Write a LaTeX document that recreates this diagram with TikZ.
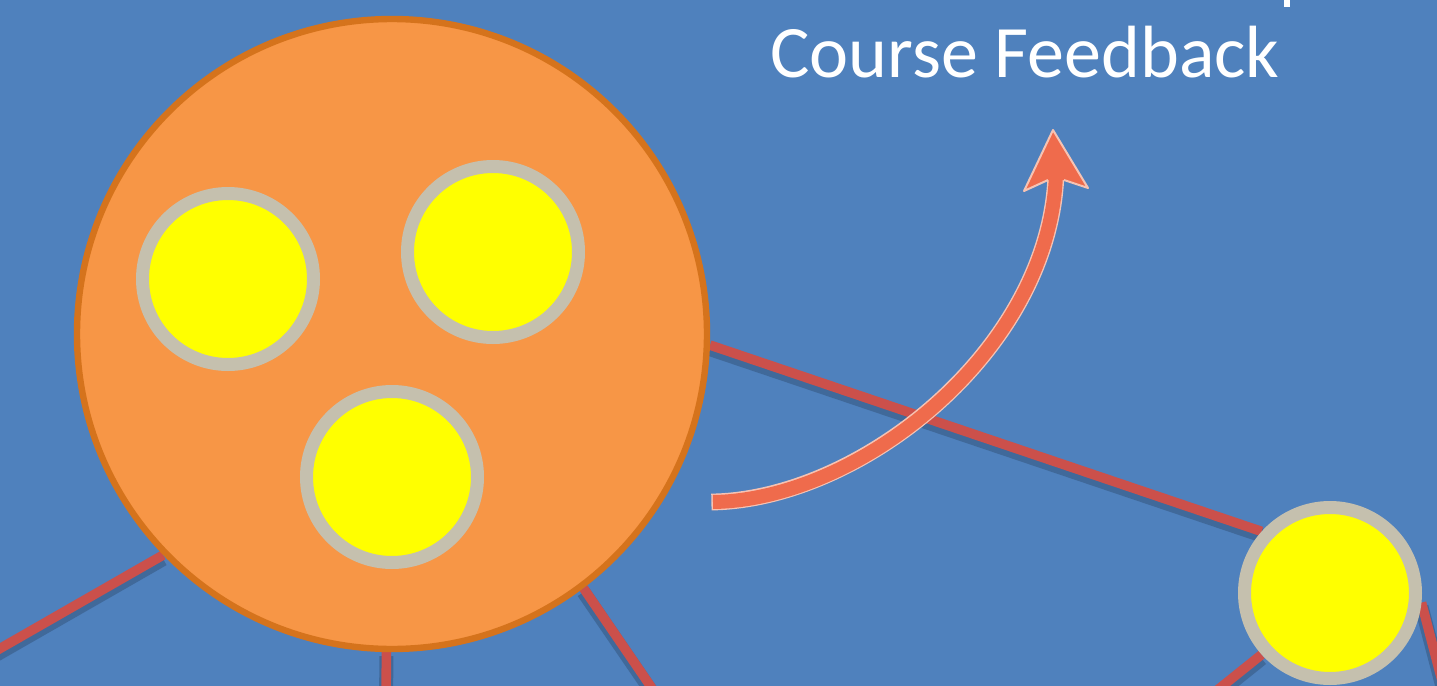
\documentclass[tikz,border=0pt]{standalone}
\usepackage{fontspec}
\setmainfont{Carlito}
\definecolor{bgblue}{HTML}{4F81BD}
\definecolor{orangefill}{HTML}{F79646}
\definecolor{orangeline}{HTML}{D5731C}
\definecolor{edgered}{HTML}{CB504B}
\definecolor{arrowcol}{HTML}{EF6B4C}
\definecolor{arrowedge}{HTML}{F6C3B3}
\definecolor{ringcol}{HTML}{C5C0AE}
\definecolor{memberfill}{HTML}{FFFF00}
\pgfdeclarelayer{back}
\pgfsetlayers{back,main}
\begin{document}
\begin{tikzpicture}[x=0.5pt,y=-0.5pt,
  bigcirc/.style={circle, fill=orangefill, draw=orangeline, line width=3.2pt, minimum size=315pt, inner sep=0pt},
  member/.style={circle, fill=memberfill, draw=ringcol, line width=6.5pt, minimum size=85.5pt, inner sep=0pt},
  link/.style={draw=edgered, line width=4.8pt,
    preaction={draw=black, draw opacity=0.18, line width=7pt, transform canvas={yshift=-2pt}}},
  titletext/.style={text=white, font=\fontsize{37}{44}\selectfont, anchor=base west, inner sep=0pt},
  shaftedge/.style={draw=arrowedge, line width=8.4pt},
  shaftfill/.style={draw=arrowcol, line width=7pt}
]
\useasboundingbox (0,0) rectangle (1437,686);
\clip (0,0) rectangle (1437,686);

% nodes
\node[bigcirc] (group) at (392,334) {};
\node[member] (m1) at (228,279) {};
\node[member] (m2) at (493,252) {};
\node[member] (m3) at (392,477) {};
\node[member] (m4) at (1330,593) {};

\coordinate (e1) at (-20,660);
\coordinate (e2) at (386,700);
\coordinate (e3) at (660,700);
\coordinate (e4) at (1205,700);
\coordinate (e5) at (1447,700);

\begin{pgfonlayer}{back}
  \fill[bgblue] (0,0) rectangle (1437,686);
  \draw[link] (group.-2) -- (m4.138);
  \draw[link] (group.224) -- (e1);
  \draw[link] (group.269.6) -- (e2);
  \draw[link] (group.-53) -- (e3);
  \draw[link] (m4.222) -- (e4);
  \draw[link] (m4.-6.5) -- (e5);
\end{pgfonlayer}

% title text
\node[titletext] (title) at (770,77) {Course Feedback};
\fill[white] (1284,0) rectangle (1290,7);

% curved arrow
\coordinate (atail) at (713,502);
\coordinate (ashaft) at (1056,174);
\coordinate (atip) at (1053,130);
\coordinate (awl) at (1024,191);
\coordinate (awr) at (1088,188);
\coordinate (anl) at (1048,180);
\coordinate (anr) at (1064,180);
\draw[shaftedge, shorten <=-0.8pt] (atail) .. controls (860,500) and (1050,350) .. (ashaft);
\draw[shaftfill] (atail) .. controls (860,500) and (1050,350) .. (ashaft);
\fill[arrowcol] (atip) -- (awr) -- (anr) -- (anl) -- (awl) -- cycle;
\draw[arrowedge, line width=1pt, line join=round] (anl) -- (awl) -- (atip) -- (awr) -- (anr);
\end{tikzpicture}
\end{document}
